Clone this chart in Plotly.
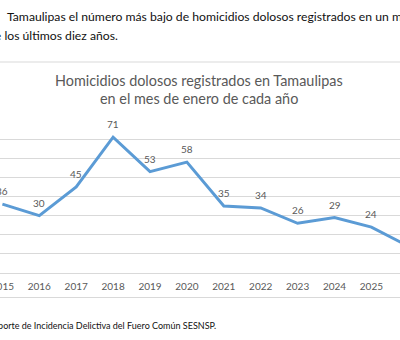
import plotly.graph_objects as go

years = [2015, 2016, 2017, 2018, 2019, 2020, 2021, 2022, 2023, 2024, 2025, 2026]
homicidios = [36, 30, 45, 71, 53, 58, 35, 34, 26, 29, 24, 14]
tick_labels = [str(y) for y in years]

title_lines = ["Homicidios dolosos registrados en Tamaulipas", "en el mes de enero de cada año"]
doc_line1 = "Tamaulipas el número más bajo de homicidios dolosos registrados en un mes de enero"
doc_line2 = "de los últimos diez años."
source_text = "Fuente: Reporte de Incidencia Delictiva del Fuero Común SESNSP."

W, H = 400, 340
top_px, bot_px = 120, 273  # plot area in pixels
ph = bot_px - top_px


def py(y):
    return (bot_px - y) / ph


def px(x):
    return x / W


FONT = "Lato"
GRAY = "#595959"

fig = go.Figure()
fig.add_trace(go.Scatter(
    x=years, y=homicidios, mode="lines",
    line=dict(color="#5B9BD5", width=3),
    hoverinfo="skip", showlegend=False,
))

ann = []
for yr, v in zip(years, homicidios):
    ann.append(dict(x=yr, y=v, xref="x", yref="y", text=str(v), showarrow=False,
                    yshift=13, font=dict(family=FONT, size=10, color=GRAY)))

ann.append(dict(x=px(199), y=py(80), xref="paper", yref="paper", text=title_lines[0],
                showarrow=False, xanchor="center", yanchor="middle",
                font=dict(family=FONT, size=14.4, color=GRAY)))
ann.append(dict(x=px(199), y=py(98), xref="paper", yref="paper", text=title_lines[1],
                showarrow=False, xanchor="center", yanchor="middle",
                font=dict(family=FONT, size=14.4, color=GRAY)))
ann.append(dict(x=px(5), y=py(17), xref="paper", yref="paper", text=doc_line1,
                showarrow=False, xanchor="left", yanchor="middle",
                font=dict(family=FONT, size=12.2, color="#111111")))
ann.append(dict(x=px(119.5), y=py(35), xref="paper", yref="paper", text=doc_line2,
                showarrow=False, xanchor="right", yanchor="middle",
                font=dict(family=FONT, size=12.2, color="#111111")))
ann.append(dict(x=px(218), y=py(325), xref="paper", yref="paper", text=source_text,
                showarrow=False, xanchor="right", yanchor="middle",
                font=dict(family=FONT, size=9, color="#111111")))

shapes = [
    dict(type="line", xref="paper", yref="paper", x0=-0.1, x1=1.1, y0=py(62), y1=py(62),
         line=dict(color="#d9d9d9", width=1)),
    dict(type="line", xref="paper", yref="paper", x0=-0.1, x1=1.1, y0=py(297.5), y1=py(297.5),
         line=dict(color="#d9d9d9", width=1)),
]

spacing = 36.9
x0 = years[0] - 2.4 / spacing
x1 = x0 + W / spacing

fig.update_layout(
    width=W, height=H,
    margin=dict(l=0, r=0, t=top_px, b=H - bot_px, pad=0, autoexpand=False),
    paper_bgcolor="white", plot_bgcolor="white",
    annotations=ann, shapes=shapes,
    xaxis=dict(range=[x0, x1], tickmode="array", tickvals=years, ticktext=tick_labels,
               showgrid=False, zeroline=False, showline=False, ticks="",
               automargin=False, ticklabeloverflow="allow",
               tickfont=dict(family=FONT, size=10, color=GRAY), ticklabelstandoff=6),
    yaxis=dict(range=[0, 80], tick0=0, dtick=10, showgrid=True, gridcolor="#d9d9d9",
               gridwidth=1, zeroline=True, zerolinecolor="#d9d9d9", zerolinewidth=1,
               automargin=False, showticklabels=False, ticks=""),
)

fig.write_html("out.html")
